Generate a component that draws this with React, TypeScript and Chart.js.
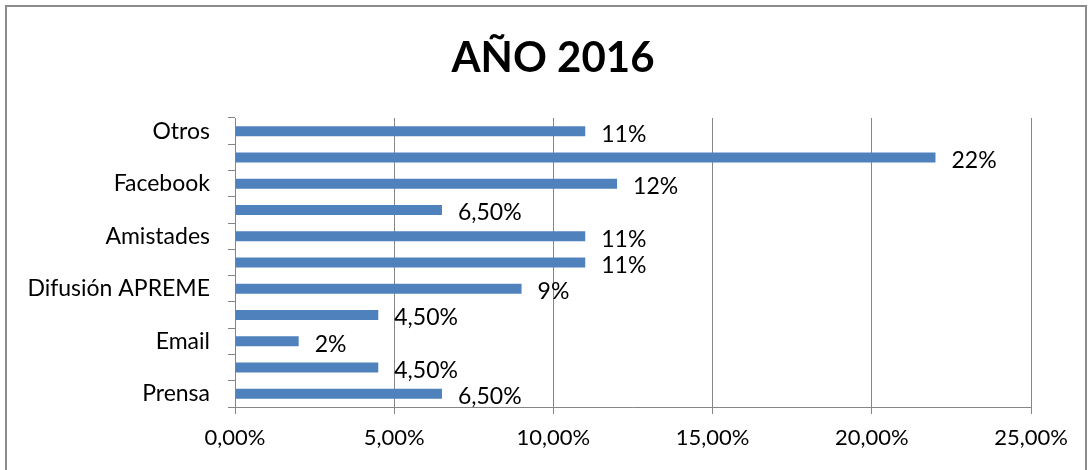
import React, { useEffect, useRef } from "react";
import { Chart, registerables } from "chart.js";

Chart.register(...registerables);

const TITLE = "AÑO 2016";
const categories = ["Otros", "", "Facebook", "", "Amistades", "", "Difusión APREME", "", "Email", "", "Prensa"];
const values = [11, 22, 12, 6.5, 11, 11, 9, 4.5, 2, 4.5, 6.5];
const xTicks = [0, 5, 10, 15, 20, 25];

const FONT = "Lato, 'Open Sans', sans-serif";
const GRID = "#868686";

function fmtTick(v: number) {
  return v.toFixed(2).replace(".", ",") + "%";
}
function fmtLabel(v: number) {
  return Number.isInteger(v) ? `${v}%` : v.toFixed(2).replace(".", ",") + "%";
}

const titlePlugin = {
  id: "customTitle",
  afterDraw(chart: any) {
    const { ctx } = chart;
    ctx.save();
    ctx.font = `bold 42px ${FONT}`;
    ctx.fillStyle = "#000";
    ctx.textAlign = "center";
    ctx.textBaseline = "middle";
    ctx.fillText(TITLE, 553, 58);
    ctx.restore();
  },
};

const dataLabelPlugin = {
  id: "dataLabels",
  afterDatasetsDraw(chart: any) {
    const { ctx } = chart;
    const meta = chart.getDatasetMeta(0);
    ctx.save();
    ctx.font = `23px ${FONT}`;
    ctx.fillStyle = "#000";
    ctx.textAlign = "left";
    ctx.textBaseline = "middle";
    meta.data.forEach((bar: any, i: number) => {
      ctx.fillText(fmtLabel(values[i]), bar.x + 16, bar.y + 3);
    });
    ctx.restore();
  },
};

export default function App() {
  const ref = useRef<HTMLCanvasElement | null>(null);
  useEffect(() => {
    document.body.style.margin = "0";
    const c = new Chart(ref.current!, {
      type: "bar",
      data: {
        labels: categories,
        datasets: [
          {
            data: values,
            backgroundColor: "#4F81BD",
            borderWidth: 0,
            barPercentage: 0.38,
            categoryPercentage: 1,
          },
        ],
      },
      options: {
        indexAxis: "y",
        animation: false,
        responsive: false,
        maintainAspectRatio: false,
        layout: { padding: { top: 118, right: 61, left: 0, bottom: 0 } },
        plugins: { legend: { display: false }, tooltip: { enabled: false }, title: { display: false } },
        scales: {
          x: {
            type: "linear",
            min: 0,
            max: 25,
            afterBuildTicks: (s: any) => {
              s.ticks = xTicks.map((v) => ({ value: v }));
            },
            afterFit: (s: any) => {
              s.height = 63;
            },
            grid: { color: GRID, lineWidth: 1, tickLength: 7, drawTicks: true },
            border: { color: GRID, width: 1 },
            ticks: {
              color: "#000",
              font: { family: FONT, size: 22 },
              padding: 11,
              maxRotation: 0,
              callback: (v: any) => fmtTick(Number(v)),
            },
          },
          y: {
            type: "category",
            afterFit: (s: any) => {
              s.width = 235;
            },
            grid: { drawOnChartArea: false, drawTicks: true, tickLength: 7, color: GRID, offset: true },
            border: { color: GRID, width: 1 },
            ticks: {
              autoSkip: false,
              color: "#000",
              font: { family: FONT, size: 23 },
              padding: 18,
            },
          },
        },
      },
      plugins: [titlePlugin, dataLabelPlugin],
    } as any);
    return () => c.destroy();
  }, []);
  return (
    <div style={{ position: "relative", width: 1092, height: 470, overflow: "hidden", background: "#fff" }}>
      <div
        style={{
          position: "absolute",
          left: 5,
          top: 5,
          width: 1082,
          height: 480,
          border: "2px solid #8c8c8c",
          boxSizing: "border-box",
        }}
      />
      <canvas ref={ref} width={1092} height={470} style={{ position: "absolute", left: 0, top: 0 }} />
    </div>
  );
}
